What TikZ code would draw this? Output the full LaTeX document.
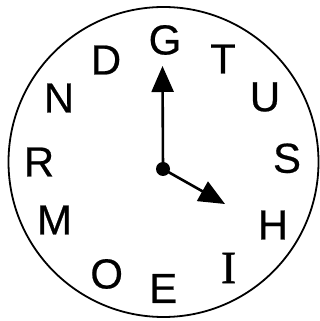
\documentclass[tikz,border=0pt]{standalone}
\usepackage{fontspec}
\setmainfont{Liberation Sans}[FakeBold=0.5]
\newfontfamily\serifI{Liberation Serif}[FakeBold=1]
\usetikzlibrary{arrows.meta}
\begin{document}
\begin{tikzpicture}[x=1pt,y=1pt,
  letter/.style={font=\fontsize{42}{42}\selectfont, inner sep=0pt, anchor=center},
  hand/.style={line width=2.6pt, -{Triangle[length=26pt,width=22pt]}}]
\useasboundingbox (0,0) rectangle (320,321);
\node[draw, circle, line width=1.8pt, minimum size=310pt, inner sep=0pt] (face) at (163.5,159) {};
\node[letter] (G) at (165,281) {G};
\node[letter] (T) at (223,262) {T};
\node[letter] (U) at (265,224) {U};
\node[letter] (S) at (287,162.7) {S};
\node[letter] (H) at (273,96) {H};
\node[letter, font=\serifI\fontsize{46}{46}\selectfont] (I) at (228.7,53) {I};
\node[letter] (E) at (163.3,32.5) {E};
\node[letter] (O) at (106.7,47) {O};
\node[letter] (M) at (54.5,101) {M};
\node[letter] (R) at (39,159) {R};
\node[letter] (N) at (59,223) {N};
\node[letter] (D) at (106,261) {D};
\coordinate (ctr) at (163,152);
\coordinate (mtip) at (162.5,255);
\coordinate (htip) at (225,117);
\draw[hand] (ctr) -- (mtip);
\draw[hand] (ctr) -- (htip);
\fill (ctr) circle (7pt);
\end{tikzpicture}
\end{document}
